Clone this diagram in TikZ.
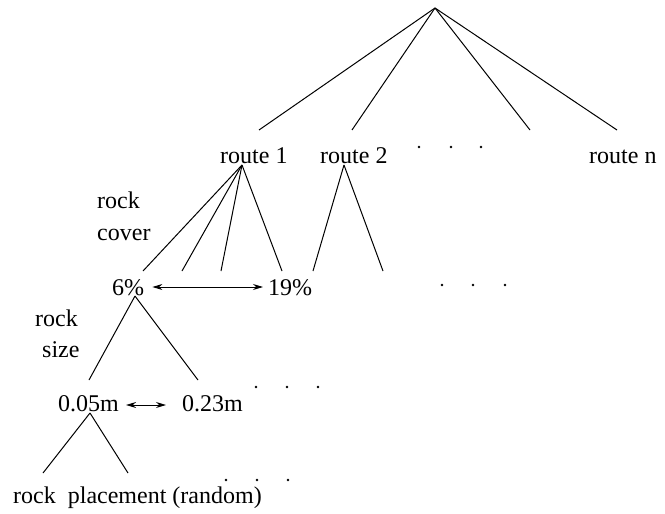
\documentclass[tikz,border=0pt]{standalone}
\usepackage{fontspec}
\setmainfont{Liberation Serif}
\usetikzlibrary{arrows.meta}
\begin{document}
\begin{tikzpicture}[x=1pt,y=-1pt,
  lbl/.style={inner sep=0pt,anchor=base west,font=\fontsize{24}{28}\selectfont},
  edge/.style={line width=1pt},
  dbl/.style={line width=1pt,{Stealth[length=10pt,width=6pt]}-{Stealth[length=10pt,width=6pt]}},
  dotty/.style={fill=black}]
\useasboundingbox (0,0) rectangle (665,514);
% root
\coordinate (root) at (435,8);
% route labels
\node[lbl] (r1) at (220,163) {route 1};
\node[lbl] (r2) at (320,163) {route 2};
\node[lbl] (rn) at (589,163) {route n};
\coordinate (e1) at (259,130);
\coordinate (e2) at (352,130);
\coordinate (e3) at (530,130);
\coordinate (e4) at (617,130);
\foreach \e in {e1,e2,e3,e4} \draw[edge] (root) -- (\e);
\foreach \x [count=\i] in {419,451,481} \fill[dotty] (\x,147) circle (1.4) coordinate (dA\i);
% rock cover
\node[lbl] (rc1) at (97,208) {rock};
\node[lbl] (rc2) at (97,240) {cover};
\coordinate (a1) at (242,165);
\coordinate (a2) at (344,165);
\foreach \x/\n in {143/c1,182/c2,221/c3,282/c4} {\coordinate (\n) at (\x,271); \draw[edge] (a1) -- (\n);}
\foreach \x/\n in {313/d1,383/d2} {\coordinate (\n) at (\x,271); \draw[edge] (a2) -- (\n);}
\node[lbl] (p6) at (112,295) {6\%};
\node[lbl] (p19) at (268,295) {19\%};
\draw[dbl] ([xshift=8pt,yshift=8pt]p6.base east) -- ([xshift=-5pt,yshift=8pt]p19.base west);
\foreach \x [count=\i] in {442,473,505} \fill[dotty] (\x,285) circle (1.4) coordinate (dB\i);
% rock size
\node[lbl] (rs1) at (35,326) {rock};
\node[lbl] (rs2) at (42,357) {size};
\coordinate (a3) at (135,296);
\coordinate (f1) at (89,380);
\coordinate (f2) at (198,380);
\draw[edge] (a3) -- (f1);
\draw[edge] (a3) -- (f2);
\node[lbl] (m5) at (58,411) {0.05m};
\node[lbl] (m23) at (182,411) {0.23m};
\draw[dbl] ([xshift=7pt,yshift=6pt]m5.base east) -- ([xshift=-16pt,yshift=6pt]m23.base west);
\foreach \x [count=\i] in {256,287,318} \fill[dotty] (\x,387) circle (1.4) coordinate (dC\i);
% rock placement
\coordinate (a4) at (90,413);
\coordinate (g1) at (43,473);
\coordinate (g2) at (128,473);
\draw[edge] (a4) -- (g1);
\draw[edge] (a4) -- (g2);
\node[lbl] (rp) at (13,503) {rock\ \ placement (random)};
\foreach \x [count=\i] in {226,257,288} \fill[dotty] (\x,480) circle (1.4) coordinate (dD\i);
\end{tikzpicture}
\end{document}
